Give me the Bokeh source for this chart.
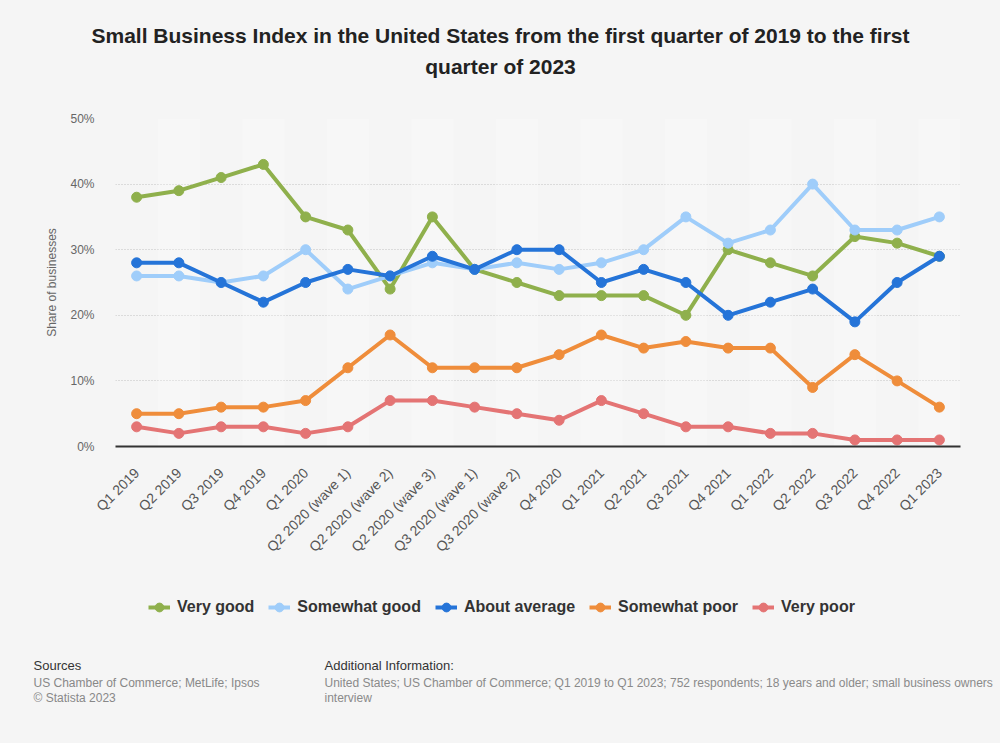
import math
from bokeh.plotting import figure
from bokeh.layouts import column
from bokeh.models import (Range1d, FactorRange, Label, Legend, LegendItem,
                          FixedTicker, PrintfTickFormatter)
from bokeh.embed import file_html
from bokeh.resources import INLINE

quarters = ["Q1 2019", "Q2 2019", "Q3 2019", "Q4 2019", "Q1 2020",
            "Q2 2020 (wave 1)", "Q2 2020 (wave 2)", "Q2 2020 (wave 3)",
            "Q3 2020 (wave 1)", "Q3 2020 (wave 2)", "Q4 2020", "Q1 2021",
            "Q2 2021", "Q3 2021", "Q4 2021", "Q1 2022", "Q2 2022", "Q3 2022",
            "Q4 2022", "Q1 2023"]
very_good = [38, 39, 41, 43, 35, 33, 24, 35, 27, 25, 23, 23, 23, 20, 30, 28, 26, 32, 31, 29]
somewhat_good = [26, 26, 25, 26, 30, 24, 26, 28, 27, 28, 27, 28, 30, 35, 31, 33, 40, 33, 33, 35]
about_average = [28, 28, 25, 22, 25, 27, 26, 29, 27, 30, 30, 25, 27, 25, 20, 22, 24, 19, 25, 29]
somewhat_poor = [5, 5, 6, 6, 7, 12, 17, 12, 12, 12, 14, 17, 15, 16, 15, 15, 9, 14, 10, 6]
very_poor = [3, 2, 3, 3, 2, 3, 7, 7, 6, 5, 4, 7, 5, 3, 3, 2, 2, 1, 1, 1]
y_ticks = [0, 10, 20, 30, 40, 50]

series_names = ["Very good", "Somewhat good", "About average", "Somewhat poor", "Very poor"]
series_values = [very_good, somewhat_good, about_average, somewhat_poor, very_poor]
series_colors = ["#8fb04c", "#9fcdfa", "#2574d8", "#ef8d3b", "#e47474"]

title_lines = ["Small Business Index in the United States from the first quarter of 2019 to the first",
               "quarter of 2023"]
source_lines = ["US Chamber of Commerce; MetLife; Ipsos", "\u00a9 Statista 2023"]
info_lines = ["United States; US Chamber of Commerce; Q1 2019 to Q1 2023; 752 respondents; 18 years and older; small business owners",
              "interview"]

FONT = "Liberation Sans"
BG = "#f5f5f5"


def blank_fig(h):
    f = figure(width=1000, height=h, x_range=Range1d(0, 1000), y_range=Range1d(0, 50),
               x_axis_type=None, y_axis_type=None, output_backend="svg",
               toolbar_location=None, min_border=0, frame_align=False)
    f.background_fill_color = BG
    f.border_fill_color = BG
    f.outline_line_color = None
    f.grid.grid_line_color = None
    return f


def add_label(f, x, y, text, size, color, style="normal", align="left"):
    f.add_layout(Label(x=x, y=y, x_units="screen", y_units="screen", text=text,
                       text_font=FONT, text_font_size=size,
                       text_color=color, text_font_style=style,
                       text_align=align, text_baseline="middle"))


# ---------- header ----------
header = blank_fig(100)
add_label(header, 500, 65, title_lines[0], "21px", "#222222", "bold", "center")
add_label(header, 500, 34, title_lines[1], "21px", "#222222", "bold", "center")

# ---------- main chart ----------
p = figure(width=1000, height=480, x_range=FactorRange(factors=quarters),
           y_range=Range1d(0, 50), output_backend="svg", toolbar_location=None,
           min_border_left=115, min_border_right=40, min_border_top=18,
           min_border_bottom=134)
p.background_fill_color = BG
p.border_fill_color = BG
p.outline_line_color = None

p.vbar(x=quarters[1::2], top=50, bottom=0, width=1.0, fill_color="white",
       fill_alpha=0.22, line_color=None)

for vals, col in zip(series_values, series_colors):
    p.line(quarters, vals, line_color=col, line_width=4)
    p.scatter(quarters, vals, size=10, fill_color=col, line_color=col)

p.ygrid.ticker = FixedTicker(ticks=y_ticks)
p.ygrid.grid_line_color = "#c0c0c0"
p.ygrid.grid_line_dash = "1 2"
p.xgrid.grid_line_color = None

p.yaxis.ticker = FixedTicker(ticks=y_ticks)
p.yaxis.formatter = PrintfTickFormatter(format="%d%%")
p.yaxis.axis_line_color = None
p.yaxis.major_tick_line_color = None
p.yaxis.minor_tick_line_color = None
p.yaxis.major_label_text_font = FONT
p.yaxis.major_label_text_font_size = "12px"
p.yaxis.major_label_text_color = "#666666"
p.yaxis.major_label_standoff = 15
p.yaxis.axis_label = "Share of businesses"
p.yaxis.axis_label_text_font = FONT
p.yaxis.axis_label_text_font_size = "12px"
p.yaxis.axis_label_text_font_style = "normal"
p.yaxis.axis_label_text_color = "#666666"
p.yaxis.axis_label_standoff = 8

p.xaxis.major_label_orientation = math.pi / 4
p.xaxis.axis_line_color = "#333333"
p.xaxis.axis_line_width = 2
p.xaxis.major_tick_line_color = None
p.xaxis.minor_tick_line_color = None
p.xaxis.major_label_text_font = FONT
p.xaxis.major_label_text_font_size = "14px"
p.xaxis.major_label_text_color = "#555555"
p.xaxis.major_label_standoff = 18

# ---------- footer with legend and sources ----------
footer = blank_fig(163)
items = []
for name, vals, col in zip(series_names, series_values, series_colors):
    # hidden copies of the series, used only for the legend swatches
    r1 = footer.line(x=list(range(len(vals))), y=vals, line_color=col,
                     line_width=4, visible=False)
    r2 = footer.scatter(x=list(range(len(vals))), y=vals, size=10,
                        fill_color=col, line_color=col, visible=False)
    items.append(LegendItem(label=name, renderers=[r1, r2]))

legend = Legend(items=items, orientation="horizontal", location=(148, 125),
                border_line_color=None, background_fill_alpha=0,
                label_text_font=FONT, label_text_font_size="16px",
                label_text_font_style="bold", label_text_color="#333333",
                glyph_width=22, glyph_height=22, spacing=14, label_standoff=7,
                margin=0, padding=0, inactive_fill_alpha=0)
footer.add_layout(legend, "center")

add_label(footer, 33, 78, "Sources", "13px", "#333333")
add_label(footer, 33, 61, source_lines[0], "12px", "#888888")
add_label(footer, 33, 46, source_lines[1], "12px", "#888888")
add_label(footer, 324, 78, "Additional Information:", "13px", "#333333")
add_label(footer, 324, 61, info_lines[0], "12px", "#8a8a8a")
add_label(footer, 324, 46, info_lines[1], "12px", "#8a8a8a")

layout = column(header, p, footer, spacing=0, styles={"background-color": BG})
open("out.html", "w").write(file_html(layout, INLINE))
